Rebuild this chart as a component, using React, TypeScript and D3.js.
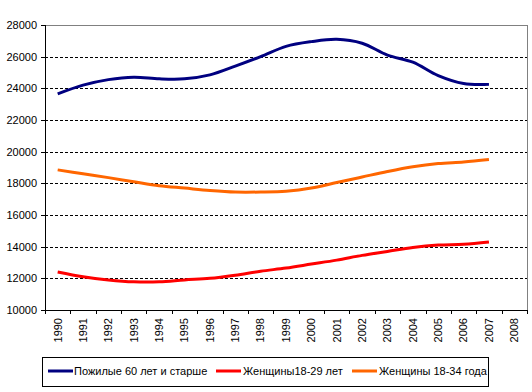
import React from "react";
import * as d3 from "d3";

const years = ["1990","1991","1992","1993","1994","1995","1996","1997","1998","1999","2000","2001","2002","2003","2004","2005","2006","2007","2008"];
const elderly = [23650,24200,24550,24700,24600,24600,24850,25400,26000,26650,26950,27100,26850,26100,25650,24800,24300,24250];
const women18_29 = [12400,12100,11900,11780,11780,11900,12000,12200,12450,12650,12900,13150,13450,13700,13950,14100,14150,14300];
const women18_34 = [18850,18600,18360,18100,17850,17700,17550,17450,17450,17500,17700,18050,18400,18750,19050,19250,19350,19500];
const yTicks = [10000,12000,14000,16000,18000,20000,22000,24000,26000,28000];

const seriesNames = ["Пожилые 60 лет и старше", "Женщины18-29 лет", "Женщины 18-34 года"];
const seriesColors = ["#000080", "#FF0000", "#FF6600"];

export default function App() {
  const W = 532, H = 392;
  const left = 45, right = 527, top = 25, bottom = 310;
  const x = d3.scaleBand().domain(years).range([left, right]).padding(0);
  const y = d3.scaleLinear().domain([10000, 28000]).range([bottom, top]);
  const data = [elderly, women18_29, women18_34];
  const line = d3.line<number>()
    .x((_, i) => (x(years[i]) as number) + x.bandwidth() / 2)
    .y((d) => y(d))
    .curve(d3.curveCatmullRom.alpha(0.5));
  const font = "Arial, 'Liberation Sans', sans-serif";
  const legendItems = [
    { lx: 48, tx: 74 },
    { lx: 216, tx: 243 },
    { lx: 352, tx: 379 },
  ];
  return (
    <svg width={W} height={H} style={{ position: "absolute", left: 0, top: 0, background: "#fff" }} fontFamily={font}>
      <rect x={0} y={0} width={W} height={H} fill="#fff" />
      {yTicks.filter(t => t > 10000 && t < 28000).map(t => (
        <line key={t} x1={left} x2={right} y1={Math.round(y(t)) + 0.5} y2={Math.round(y(t)) + 0.5}
          stroke="#000" strokeWidth={1} strokeDasharray="3,2" />
      ))}
      <line x1={left} x2={right + 0.5} y1={top + 0.5} y2={top + 0.5} stroke="#808080" />
      <line x1={right + 0.5} x2={right + 0.5} y1={top} y2={bottom} stroke="#808080" />
      <line x1={left + 0.5} x2={left + 0.5} y1={top} y2={bottom + 0.5} stroke="#000" />
      <line x1={left} x2={right + 1} y1={bottom + 0.5} y2={bottom + 0.5} stroke="#000" />
      {yTicks.map(t => (
        <g key={t}>
          <line x1={left - 4} x2={left} y1={Math.round(y(t)) + 0.5} y2={Math.round(y(t)) + 0.5} stroke="#000" />
          <text x={37} y={y(t)} dy="0.35em" textAnchor="end" fontSize={11}>{t}</text>
        </g>
      ))}
      {years.map((yr, i) => {
        const x0 = Math.round(left + i * x.bandwidth()) + 0.5;
        return <line key={"t" + yr} x1={x0} x2={x0} y1={bottom} y2={bottom + 4} stroke="#000" />;
      })}
      <line x1={right + 0.5} x2={right + 0.5} y1={bottom} y2={bottom + 4} stroke="#000" />
      {years.map(yr => {
        const cx = (x(yr) as number) + x.bandwidth() / 2;
        return (
          <text key={"l" + yr} transform={`translate(${cx},318) rotate(-90)`} textAnchor="end" dy="0.35em" fontSize={11}>{yr}</text>
        );
      })}
      {data.map((s, k) => (
        <path key={k} d={line(s) || ""} fill="none" stroke={seriesColors[k]} strokeWidth={3} />
      ))}
      <rect x={42.5} y={357.5} width={446} height={29} fill="#fff" stroke="#000" />
      {legendItems.map((it, k) => (
        <g key={k}>
          <line x1={it.lx} x2={it.lx + 25} y1={371} y2={371} stroke={seriesColors[k]} strokeWidth={3} />
          <text x={it.tx} y={371} dy="0.35em" fontSize={11}>{seriesNames[k]}</text>
        </g>
      ))}
    </svg>
  );
}
